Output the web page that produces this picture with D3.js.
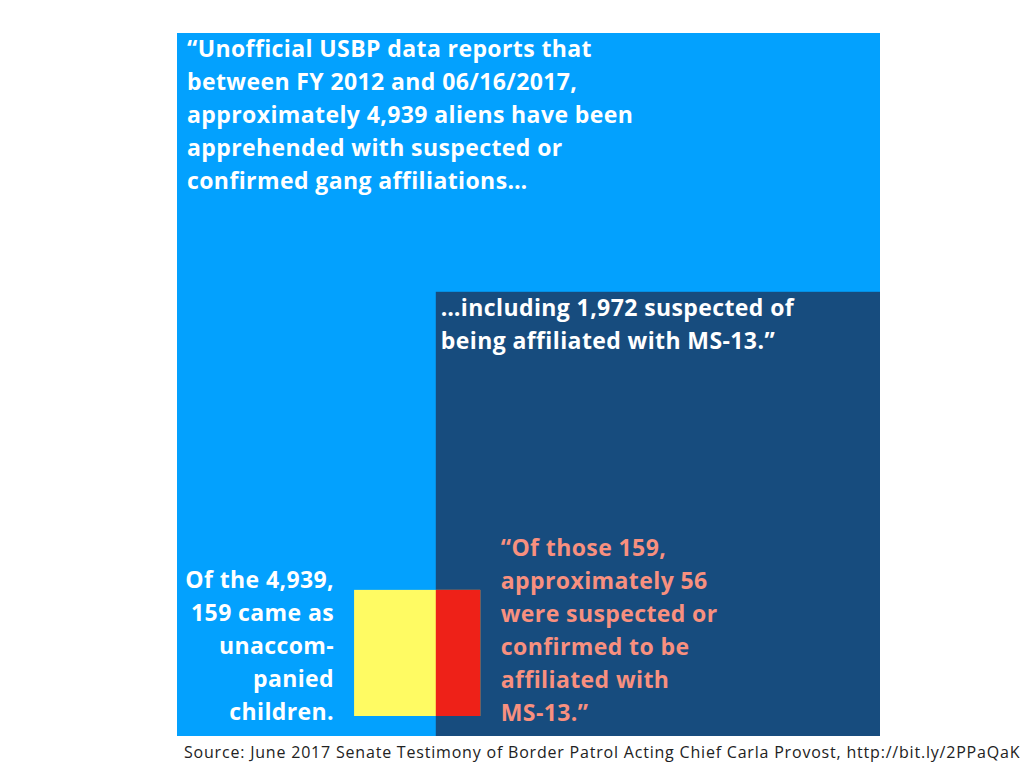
<!DOCTYPE html>
<html>
<head>
<meta charset="utf-8">
<script src="https://cdn.jsdelivr.net/npm/d3@7"></script>
<style>
  html, body { margin: 0; padding: 0; background: #fff; }
  svg { display: block; }
  text { font-family: "Open Sans", Lato, sans-serif; }
</style>
</head>
<body>
<svg id="chart" width="1024" height="768"></svg>
<script>
// ---- Data ----
const categories = ["Gang affiliated (FY2012–06/16/2017)", "Suspected MS-13", "Unaccompanied children", "UAC suspected/confirmed MS-13"];
const values = [4939, 1972, 159, 56];
const colors = ["#03A1FE", "#174C7E", "#FFFB63", "#EE2118"];

const topLines = [
  "\u201CUnofficial USBP data reports that",
  "between FY 2012 and 06/16/2017,",
  "approximately 4,939 aliens have been",
  "apprehended with suspected or",
  "confirmed gang affiliations\u2026"
];
const ms13Lines = [
  "\u2026including 1,972 suspected of",
  "being affiliated with MS-13.\u201D"
];
const uacLines = [
  "Of the 4,939,",
  "159 came as",
  "unaccom-",
  "panied",
  "children."
];
const uacMsLines = [
  "\u201COf those 159,",
  "approximately 56",
  "were suspected or",
  "confirmed to be",
  "affiliated with",
  "MS-13.\u201D"
];
const sourceText = "Source: June 2017 Senate Testimony of Border Patrol Acting Chief Carla Provost, http://bit.ly/2PPaQaK";

// ---- Layout ----
const svg = d3.select("#chart");
const side = d3.scaleSqrt().domain([0, values[0]]).range([0, 703]);

const x0 = 177, y0 = 33;
const bigS = side(values[0]);
const right = x0 + bigS, bottom = y0 + bigS;

const msS = side(values[1]);
const msX = right - msS, msY = bottom - msS;

const uacS = side(values[2]);
const redW = uacS * values[3] / values[2];
const uacX = msX + redW - uacS;
const uacY = bottom - 20 - uacS;

const rects = [
  {x: x0, y: y0, w: bigS, h: bigS, c: colors[0]},
  {x: msX, y: msY, w: msS, h: msS, c: colors[1]},
  {x: uacX, y: uacY, w: uacS, h: uacS, c: colors[2]},
  {x: msX, y: uacY, w: redW, h: uacS, c: colors[3]}
];

svg.selectAll("rect.box").data(rects).join("rect")
  .attr("class", "box")
  .attr("x", d => d.x).attr("y", d => d.y)
  .attr("width", d => d.w).attr("height", d => d.h)
  .attr("fill", d => d.c);

function block(lines, x, y, anchor, fill, size, ls) {
  const t = svg.append("text")
    .attr("x", x).attr("y", y)
    .attr("text-anchor", anchor)
    .attr("fill", fill)
    .attr("font-size", size)
    .attr("font-weight", 700)
    .attr("letter-spacing", ls);
  lines.forEach((l, i) => {
    t.append("tspan").attr("x", x).attr("dy", i === 0 ? 0 : 33).text(l);
  });
}

block(topLines, x0 + 10, y0 + 24, "start", "#ffffff", 23, 0.4);
block(ms13Lines, msX + 5, msY + 24, "start", "#ffffff", 23, 0.4);
block(uacLines, uacX - 20, uacY - 2, "end", "#ffffff", 23, 0.4);
block(uacMsLines, msX + 65, uacY - 34, "start", "#F8907F", 23, 0.4);

svg.append("text")
  .attr("x", 184).attr("y", 757.5)
  .attr("fill", "#222")
  .attr("font-size", 16)
  .attr("letter-spacing", 0.8)
  .text(sourceText);
</script>
</body>
</html>
